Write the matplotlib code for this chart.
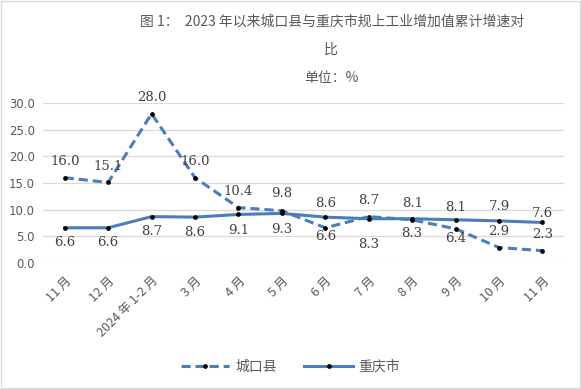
import matplotlib.pyplot as plt
from matplotlib.patches import Rectangle

plt.rcParams['font.family'] = ['Noto Sans CJK SC', 'DejaVu Sans']

# data
months = ['11 月', '12 月', '2024 年 1-2 月', '3 月', '4 月', '5 月',
          '6 月', '7 月', '8 月', '9 月', '10 月', '11 月']
chengkou = [16.0, 15.1, 28.0, 16.0, 10.4, 9.8, 6.6, 8.7, 8.1, 6.4, 2.9, 2.3]
chongqing = [6.6, 6.6, 8.7, 8.6, 9.1, 9.3, 8.6, 8.3, 8.3, 8.1, 7.9, 7.6]

# label offsets in pixels (up is positive)
off_ck = [16, 16, 16, 16, 16, 17, -9, 16, 16, -10, 16, 16]
off_cq = [-15, -15, -15, -15, -16, -16, 14, -26, -15, 12, 14, 9]

blue = '#4a7ebb'
grey = '#595959'

fig = plt.figure(figsize=(5.81, 3.89), dpi=100)
ax = fig.add_axes([0.074, 0.324, 0.897, 0.411])

x = range(len(months))
ax.plot(x, chengkou, color=blue, lw=2.2, ls=(0, (3, 1.6)), marker='o',
        ms=2.4, mfc='black', mec='black', label='城口县', zorder=3)
ax.plot(x, chongqing, color=blue, lw=2.2, marker='o',
        ms=2.4, mfc='black', mec='black', label='重庆市', zorder=3)

for i in x:
    ax.annotate(f'{chengkou[i]:.1f}', (i, chengkou[i]), xytext=(0, off_ck[i]),
                textcoords='offset pixels', ha='center', va='center',
                fontsize=9.5, family='DejaVu Serif', color='#404040')
    ax.annotate(f'{chongqing[i]:.1f}', (i, chongqing[i]), xytext=(0, off_cq[i]),
                textcoords='offset pixels', ha='center', va='center',
                fontsize=9.5, family='DejaVu Serif', color='#404040')

ax.set_xlim(-0.5, len(months) - 0.5)
ax.set_ylim(0, 30)
ax.set_yticks([0, 5, 10, 15, 20, 25, 30])
ax.set_yticklabels([f'{v:.1f}' for v in [0, 5, 10, 15, 20, 25, 30]],
                   family='DejaVu Sans', fontsize=8.5, color=grey)
ax.set_xticks(list(x))
ax.set_xticklabels(months, rotation=45, ha='right', rotation_mode='anchor',
                   fontsize=9, color=grey)
ax.tick_params(axis='y', length=0, pad=6)
ax.tick_params(axis='x', length=0, pad=8)
ax.grid(axis='y', color='#d9d9d9', lw=0.9)
ax.set_axisbelow(True)
for s in ax.spines.values():
    s.set_visible(False)

fig.text(0.572, 0.944, '图 1：  2023 年以来城口县与重庆市规上工业增加值累计增速对',
         ha='center', va='center', fontsize=10, color=grey)
fig.text(0.570, 0.872, '比', ha='center', va='center', fontsize=10, color=grey)
fig.text(0.570, 0.800, '单位：%', ha='center', va='center', fontsize=10, color=grey)

fig.legend(loc='center', bbox_to_anchor=(0.5, 0.057), ncol=2, frameon=False,
           fontsize=10, labelcolor=grey, handlelength=3.5, columnspacing=2.0,
           handletextpad=0.4)

fig.patches.append(Rectangle((0.002, 0.002), 0.996, 0.996, transform=fig.transFigure,
                             fill=False, ec='#d9d9d9', lw=1))

fig.savefig('out.png', dpi=100)
